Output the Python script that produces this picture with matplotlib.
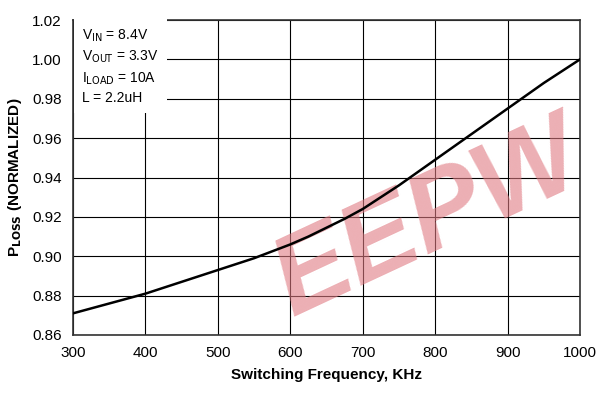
import matplotlib
matplotlib.use("Agg")
import matplotlib.pyplot as plt

plt.rcParams['font.family'] = ['Liberation Sans', 'DejaVu Sans']

# switching frequency (kHz) and normalized power loss
freq = [300, 325, 350, 375, 400, 425, 450, 475, 500, 525, 550, 575, 600, 625, 650,
        675, 700, 725, 750, 775, 800, 825, 850, 875, 900, 925, 950, 975, 1000]
ploss = [0.871, 0.8735, 0.876, 0.8785, 0.881, 0.884, 0.887, 0.890, 0.893, 0.896, 0.899,
         0.9025, 0.906, 0.910, 0.9145, 0.919, 0.924, 0.930, 0.936, 0.9425, 0.949, 0.9555,
         0.962, 0.9685, 0.975, 0.9815, 0.988, 0.994, 1.000]

xticks = [300, 400, 500, 600, 700, 800, 900, 1000]
yticks = [0.86, 0.88, 0.90, 0.92, 0.94, 0.96, 0.98, 1.00, 1.02]

fig = plt.figure(figsize=(6, 3.97), dpi=100)
ax = fig.add_axes([73/600, 62/397, 507/600, 315/397])

ax.plot(freq, ploss, color="black", lw=1.8, zorder=3)
ax.set_xlim(300, 1000)
ax.set_ylim(0.86, 1.02)
ax.set_xticks(xticks)
ax.set_yticks(yticks)
ax.set_yticklabels(["%.2f" % v for v in yticks])
ax.grid(True, color="black", lw=0.8)
ax.tick_params(length=0, labelsize=11, pad=8)
for s in ax.spines.values():
    s.set_linewidth(1.2)
    s.set_color("#333333")

ax.set_xlabel("Switching Frequency, KHz", fontsize=11, fontweight="bold", labelpad=6)
ax.set_ylabel(r"P$_{\mathbf{LOSS}}$ (NORMALIZED)", fontsize=11, fontweight="bold", labelpad=6)

ax.text(0.018, 0.975,
        "V$_{\\mathrm{IN}}$ = 8.4V\nV$_{\\mathrm{OUT}}$ = 3.3V\nI$_{\\mathrm{LOAD}}$ = 10A\nL = 2.2uH",
        transform=ax.transAxes, fontsize=10, va="top", ha="left", linespacing=1.4,
        bbox=dict(facecolor="white", edgecolor="none", pad=6), zorder=4)

# watermark
ax.text(0.70, 0.36, "EEPW", transform=ax.transAxes, fontsize=80, fontweight="heavy",
        style="italic", color="#e07a82", alpha=0.6, rotation=25, ha="center",
        va="center", zorder=2.5, clip_on=False)

fig.savefig("out.png", dpi=100)
